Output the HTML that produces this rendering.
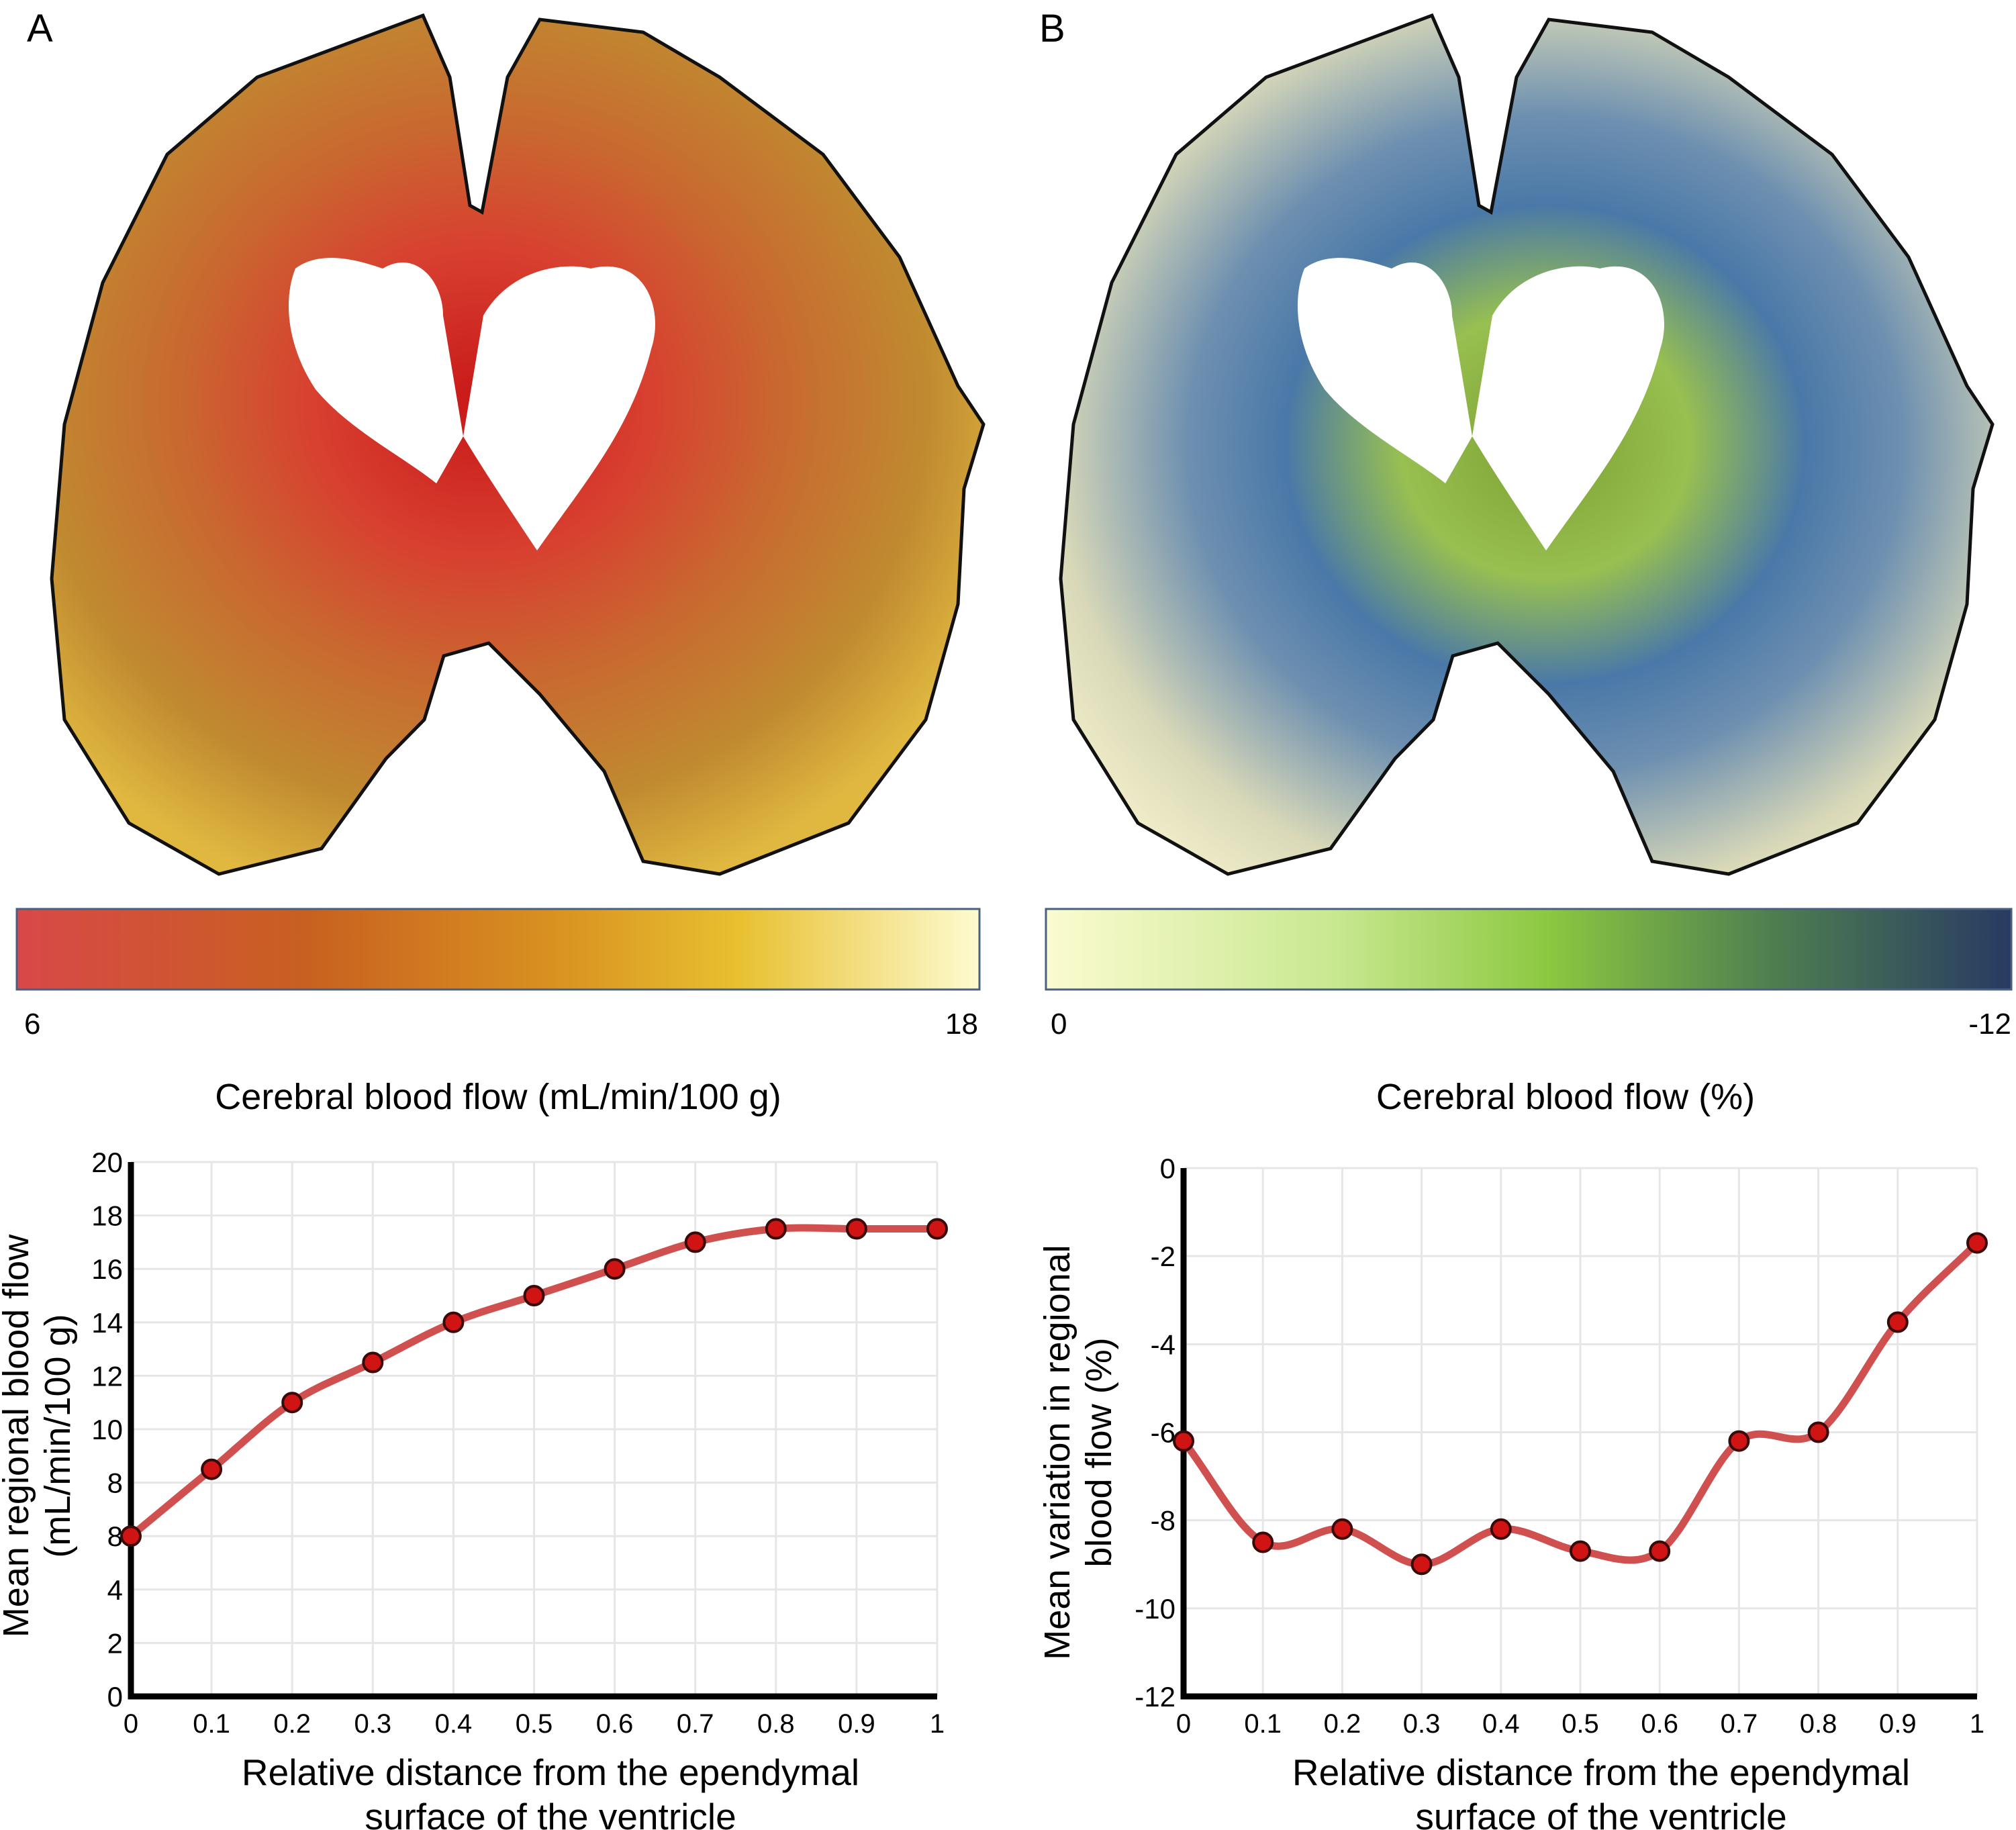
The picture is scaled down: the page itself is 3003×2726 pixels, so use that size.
<!DOCTYPE html>
<html><head><meta charset="utf-8"><style>
html,body{margin:0;padding:0;background:#fff;}
svg{display:block;font-family:"Liberation Sans",sans-serif;}
</style></head><body>
<svg id="root" width="3003" height="2726" viewBox="0 0 3003 2726" xmlns="http://www.w3.org/2000/svg">
<defs>
<radialGradient id="gA" cx="0.46" cy="0.45" r="0.6">
<stop offset="0" stop-color="#c81818"/><stop offset="0.3" stop-color="#d84030"/><stop offset="0.55" stop-color="#c86a30"/><stop offset="0.8" stop-color="#c08a30"/><stop offset="1" stop-color="#e0b840"/>
</radialGradient>
<radialGradient id="gB" cx="0.52" cy="0.5" r="0.62">
<stop offset="0" stop-color="#7aa030"/><stop offset="0.25" stop-color="#98c050"/><stop offset="0.45" stop-color="#4a78a8"/><stop offset="0.62" stop-color="#6e90b0"/><stop offset="0.85" stop-color="#d8d8b8"/><stop offset="1" stop-color="#f0ecc8"/>
</radialGradient>
<linearGradient id="cbA" x1="0" x2="1"><stop offset="0" stop-color="#d84848"/><stop offset="0.3" stop-color="#c86020"/><stop offset="0.55" stop-color="#d89020"/><stop offset="0.75" stop-color="#e8c030"/><stop offset="1" stop-color="#fdfbd0"/></linearGradient>
<linearGradient id="cbB" x1="0" x2="1"><stop offset="0" stop-color="#fbfbd0"/><stop offset="0.3" stop-color="#c8e890"/><stop offset="0.52" stop-color="#8cc840"/><stop offset="0.75" stop-color="#4f7f50"/><stop offset="1" stop-color="#283a62"/></linearGradient>
<g id="brainShape">
<path d="M630,23 L670,115 L700,306 L718,316 L756,115 L804,29 L958,48 L1072,115 L1226,230 L1340,383 L1427,575 L1465,632 L1436,728 L1427,900 L1379,1072 L1264,1226 L1072,1302 L958,1283 L900,1149 L804,1034 L728,958 L661,977 L632,1072 L575,1130 L479,1264 L326,1302 L192,1226 L96,1072 L77,862 L96,632 L153,421 L249,230 L383,115 Z" stroke="#111" stroke-width="5"/>
</g>
</defs>
<rect width="3003" height="2726" fill="#fff"/>

<text x="40" y="62" font-size="58">A</text>
<text x="1548" y="62" font-size="58">B</text>

<g>
<use href="#brainShape" fill="url(#gA)"/>
<path d="M440,400 C480,370 540,390 570,400 C620,370 660,420 660,470 L690,650 L650,720 C600,680 520,640 470,580 C430,520 420,450 440,400 Z M720,470 C760,400 840,390 880,400 C960,380 990,460 970,520 C940,640 870,720 800,820 C760,760 720,700 690,650 Z" fill="#fff"/>
</g>
<g transform="translate(1503,0)">
<use href="#brainShape" fill="url(#gB)"/>
<path d="M440,400 C480,370 540,390 570,400 C620,370 660,420 660,470 L690,650 L650,720 C600,680 520,640 470,580 C430,520 420,450 440,400 Z M720,470 C760,400 840,390 880,400 C960,380 990,460 970,520 C940,640 870,720 800,820 C760,760 720,700 690,650 Z" fill="#fff"/>
</g>

<rect x="25" y="1354" width="1434" height="120" fill="url(#cbA)" stroke="#4a6080" stroke-width="3"/>
<text x="36" y="1540" font-size="44">6</text>
<text x="1457" y="1540" font-size="44" text-anchor="end">18</text>
<text x="742" y="1652" font-size="54" text-anchor="middle">Cerebral blood flow (mL/min/100 g)</text>

<rect x="1558" y="1354" width="1438" height="120" fill="url(#cbB)" stroke="#4a6080" stroke-width="3"/>
<text x="1565" y="1540" font-size="44">0</text>
<text x="2996" y="1540" font-size="44" text-anchor="end">-12</text>
<text x="2332" y="1652" font-size="54" text-anchor="middle">Cerebral blood flow (%)</text>

<g id="chartA"></g>
<g id="chartB"></g>
</svg>
<script>
const xCats = [0,0.1,0.2,0.3,0.4,0.5,0.6,0.7,0.8,0.9,1];
const xTickLabels = ["0","0.1","0.2","0.3","0.4","0.5","0.6","0.7","0.8","0.9","1"];
const seriesA = [6,8.5,11,12.5,14,15,16,17,17.5,17.5,17.5];
const yTicksA = [0,2,4,6,8,10,12,14,16,18,20];
const yTickLabelsA = ["0","2","4","8","8","10","12","14","16","18","20"];
const seriesB = [-6.2,-8.5,-8.2,-9,-8.2,-8.7,-8.7,-6.2,-6,-3.5,-1.7];
const yTicksB = [-12,-10,-8,-6,-4,-2,0];
const yTickLabelsB = ["-12","-10","-8","-6","-4","-2","0"];

const NS="http://www.w3.org/2000/svg";
function mk(parent,tag,attrs){const e=document.createElementNS(NS,tag);for(const k in attrs)e.setAttribute(k,attrs[k]);parent.appendChild(e);return e;}

function drawChart(g,cfg){
  const sx=v=>cfg.x0+(v-0)/(1-0)*(cfg.x1-cfg.x0);
  const sy=v=>cfg.yb+(v-cfg.ymin)/(cfg.ymax-cfg.ymin)*(cfg.yt-cfg.yb);
  xCats.forEach((v,i)=>{
    const l=mk(g,'line',{x1:sx(v),x2:sx(v),y1:cfg.yt,y2:cfg.yb,stroke:'#e6e6e6','stroke-width':3});
    
    
    const t=mk(g,'text',{x:sx(v),y:cfg.yb+54,'font-size':40,'text-anchor':'middle'});
    t.textContent=xTickLabels[i];
    
    
  });
  cfg.yTicks.forEach((v,i)=>{
    const l=mk(g,'line',{x1:cfg.x0,x2:cfg.x1,y1:sy(v),y2:sy(v),stroke:'#e6e6e6','stroke-width':3});
    
    
    const t=mk(g,'text',{x:cfg.x0-12,y:sy(v)+15,'font-size':42,'text-anchor':'end'});
    t.textContent=cfg.yLabels[i];
    
    
  });
  const ax=mk(g,'path',{d:`M${cfg.x0},${cfg.yt} L${cfg.x0},${cfg.yb} L${cfg.x1},${cfg.yb}`,fill:'none',stroke:'#000','stroke-width':9});
  
  
  const pts=xCats.map((v,i)=>[sx(v),sy(cfg.data[i])]);
  const n=pts.length;
  const ext=i=>{
    if(i<0) return [2*pts[0][0]-pts[1][0],2*pts[0][1]-pts[1][1]];
    if(i>=n) return [2*pts[n-1][0]-pts[n-2][0],2*pts[n-1][1]-pts[n-2][1]];
    return pts[i];
  };
  let d=`M${pts[0][0]},${pts[0][1]}`;
  for(let i=0;i<n-1;i++){
    const p0=ext(i-1),p1=pts[i],p2=pts[i+1],p3=ext(i+2);
    const c1=[p1[0]+(p2[0]-p0[0])/6,p1[1]+(p2[1]-p0[1])/6];
    const c2=[p2[0]-(p3[0]-p1[0])/6,p2[1]-(p3[1]-p1[1])/6];
    d+=` C${c1[0]},${c1[1]} ${c2[0]},${c2[1]} ${p2[0]},${p2[1]}`;
  }
  const ln=mk(g,'path',{d:d,fill:'none',stroke:'#d05050','stroke-width':11,'stroke-linecap':'round'});
  
  
  pts.forEach(p=>{
    const c=mk(g,'circle',{cx:p[0],cy:p[1],r:14,fill:'#d01414',stroke:'#3a0a0a','stroke-width':4});
    
    
  });
  const xt=mk(g,'text',{x:cfg.xtx,y:cfg.yb+132,'font-size':55,'text-anchor':'middle'});
  xt.innerHTML=`<tspan x="${cfg.xtx}">Relative distance from the ependymal</tspan><tspan x="${cfg.xtx}" dy="66">surface of the ventricle</tspan>`;
  
  
  const cy=(cfg.yt+cfg.yb)/2+cfg.ytOff;
  const yt=mk(g,'text',{'font-size':54,'text-anchor':'middle',transform:`translate(${cfg.ytx},${cy}) rotate(-90)`});
  yt.innerHTML=`<tspan x="0" y="0">${cfg.yTitle[0]}</tspan><tspan x="0" y="62">${cfg.yTitle[1]}</tspan>`;
  
  
}
drawChart(document.getElementById('chartA'),{x0:195,x1:1396,yt:1731,yb:2527,ymin:0,ymax:20,data:seriesA,yTicks:yTicksA,yLabels:yTickLabelsA,xtx:820,ytx:42,ytOff:10,yTitle:["Mean regional blood flow","(mL/min/100 g)"]});
drawChart(document.getElementById('chartB'),{x0:1763,x1:2945,yt:1740,yb:2527,ymin:-12,ymax:0,data:seriesB,yTicks:yTicksB,yLabels:yTickLabelsB,xtx:2385,ytx:1593,ytOff:30,yTitle:["Mean variation in regional","blood flow (%)"]});
</script>
</body></html>
